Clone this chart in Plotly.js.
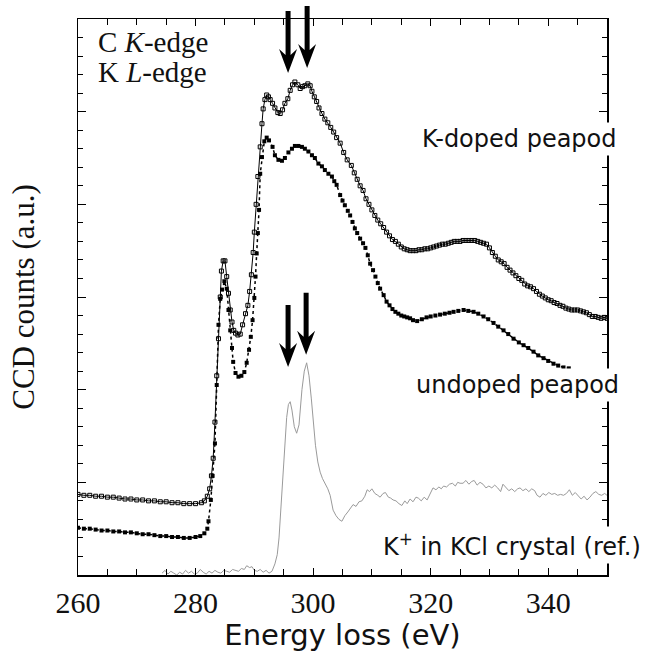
<!DOCTYPE html>
<html>
<head>
<meta charset="utf-8">
<script src="https://cdn.plot.ly/plotly-3.0.1.min.js"></script>
<style>html,body{margin:0;padding:0;background:#fff;}#chart{width:657px;height:663px;}</style>
</head>
<body>
<div id="chart"></div>
<script>
// K-doped peapod (open squares, solid line)
const kDopedE = [260,261,262,263,264,265,266,267,268,269,270,271,272,273,274,275,276,277,278,279,280,281,281.5,282,282.4,282.7,283,283.3,283.6,283.9,284.2,284.4,284.7,285,285.3,285.6,285.9,286.2,286.5,286.8,287.2,287.6,288,288.5,288.9,289.2,289.5,289.8,290,290.3,290.6,291,291.3,291.5,291.8,292.1,292.4,292.7,293.1,293.5,294,294.4,294.8,295.2,295.7,296.1,296.5,296.9,297.4,297.8,298.2,298.6,299.1,299.5,299.8,300.2,300.6,301,301.5,302,302.5,303,303.5,304,304.6,305.2,305.8,306.5,307,307.5,308,308.5,309,309.5,310,310.5,311,311.5,312,312.5,313,313.5,314,314.5,315,315.5,316,316.5,317,317.5,318,318.5,319,319.5,320,320.5,321,321.5,322,322.5,323,323.5,324,324.5,325,325.5,326,326.5,327,327.5,328,328.5,329,329.5,330,330.5,331,331.5,332,332.5,333,333.5,334,334.5,335,335.5,336,336.5,337,337.5,338,338.5,339,339.5,340,340.5,341,341.5,342,342.5,343,343.5,344,344.5,345,345.5,346,346.5,347,347.5,348,348.5,349,349.5,350];
const kDopedI = [0.87,0.86,0.86,0.85,0.85,0.84,0.84,0.83,0.82,0.82,0.81,0.81,0.80,0.80,0.79,0.79,0.78,0.78,0.77,0.77,0.77,0.78,0.80,0.85,0.93,1.07,1.26,1.65,2.15,2.55,3.00,3.28,3.39,3.39,3.22,3.04,2.86,2.73,2.64,2.61,2.59,2.60,2.70,2.82,2.91,3.06,3.24,3.48,3.70,4.00,4.30,4.62,4.87,5.03,5.13,5.18,5.16,5.13,5.09,5.04,4.99,4.98,5.02,5.09,5.14,5.23,5.29,5.32,5.29,5.25,5.27,5.28,5.30,5.28,5.22,5.16,5.11,5.04,4.98,4.92,4.88,4.83,4.78,4.72,4.66,4.56,4.48,4.42,4.34,4.27,4.20,4.15,4.06,4.00,3.94,3.88,3.83,3.79,3.75,3.70,3.66,3.62,3.60,3.57,3.54,3.52,3.51,3.50,3.50,3.50,3.51,3.51,3.52,3.52,3.53,3.54,3.55,3.56,3.57,3.57,3.58,3.59,3.60,3.60,3.60,3.61,3.61,3.61,3.61,3.61,3.60,3.59,3.58,3.57,3.53,3.48,3.44,3.40,3.38,3.36,3.32,3.29,3.26,3.23,3.20,3.18,3.14,3.12,3.11,3.09,3.06,3.03,3.01,2.99,2.97,2.96,2.94,2.93,2.91,2.90,2.88,2.87,2.86,2.86,2.86,2.85,2.84,2.83,2.81,2.79,2.79,2.78,2.77,2.78,2.77];

// undoped peapod (filled squares, dotted line)
const undopedE = [260,261,262,263,264,265,266,267,268,269,270,271,272,273,274,275,276,277,278,279,280,280.8,281.5,282,282.2,282.6,282.9,283.3,283.6,283.9,284.2,284.5,284.9,285.3,285.6,285.9,286.2,286.4,286.8,287.3,287.8,288.3,288.7,289.1,289.4,289.7,290,290.2,290.4,290.6,290.8,291,291.3,291.7,292.1,292.5,293.1,293.5,294.1,294.7,295.2,295.8,296.4,296.9,297.5,298.1,298.6,299.2,299.8,300.3,300.9,301.5,302,302.6,303.2,303.6,304,304.6,305,305.4,305.9,306.3,306.7,307.1,307.5,308,308.5,308.9,309.3,309.7,310.2,310.6,311,311.4,312,312.5,313,313.5,314,314.5,315,315.5,316,316.5,317,317.7,318.5,319.3,320,320.8,321.6,322.4,323.2,323.9,324.7,325.6,326.4,327.3,328.1,329,329.8,330.7,331.5,332.4,333.2,334.1,335,335.8,336.6,337.5,338.3,339.2,340,340.9,341.7,342.6,343.5];
const undopedI = [0.51,0.50,0.50,0.49,0.48,0.48,0.47,0.47,0.46,0.46,0.45,0.44,0.44,0.43,0.42,0.42,0.41,0.41,0.40,0.40,0.41,0.42,0.45,0.50,0.58,0.81,1.07,1.42,2.05,2.70,2.98,3.08,3.17,3.09,2.86,2.64,2.45,2.30,2.18,2.14,2.15,2.19,2.29,2.43,2.57,2.75,2.99,3.22,3.47,3.69,3.94,4.33,4.51,4.68,4.72,4.69,4.62,4.53,4.48,4.47,4.50,4.56,4.60,4.63,4.63,4.62,4.60,4.57,4.53,4.50,4.44,4.41,4.37,4.33,4.30,4.25,4.21,4.10,4.04,3.99,3.93,3.88,3.81,3.74,3.69,3.63,3.58,3.53,3.45,3.36,3.29,3.22,3.15,3.09,3.02,2.95,2.91,2.87,2.84,2.82,2.80,2.79,2.78,2.77,2.75,2.74,2.76,2.78,2.79,2.80,2.81,2.82,2.83,2.84,2.85,2.86,2.85,2.84,2.82,2.79,2.76,2.72,2.68,2.64,2.60,2.55,2.51,2.48,2.45,2.41,2.37,2.34,2.31,2.28,2.26,2.24,2.23];

// K+ in KCl crystal (reference, thin grey line)
const kclE = [274.3,274.8,275.3,275.8,276.3,276.8,277.3,277.8,278.3,278.8,279.3,279.8,280.3,280.8,281.3,281.8,282.3,282.8,283.3,283.8,284.3,284.8,285.3,285.8,286.3,286.8,287.3,287.8,288.3,288.7,289.2,289.6,290,290.5,291,291.5,292,292.5,293,293.5,293.9,294.2,294.5,294.9,295.2,295.5,295.8,296.1,296.4,296.8,297.2,297.6,298.1,298.5,298.9,299.3,299.7,300,300.4,300.8,301.2,301.6,302,302.5,302.9,303.4,303.9,304.4,304.9,305.4,305.9,306.3,306.8,307.3,307.8,308.3,308.8,309.2,309.6,310,310.5,311,311.4,311.9,312.3,312.8,313.2,313.6,314.1,314.6,315.1,315.6,316,316.5,317,317.5,317.9,318.4,318.9,319.4,319.9,320.4,320.9,321.4,321.8,322.2,322.7,323.2,323.7,324.2,324.6,325,325.5,326,326.5,327,327.4,327.9,328.4,328.9,329.4,329.9,330.4,330.9,331.4,331.9,332.3,332.8,333.3,333.8,334.3,334.8,335.2,335.7,336.2,336.7,337.2,337.7,338.1,338.6,339.1,339.6,340.1,340.6,341.1,341.6,342.1,342.6,343.1,343.6,344.1,344.6,345.1,345.6,346.1,346.6,347.1,347.6,348.1,348.6,349.1,349.6,350];
const kclI = [0.02,0.05,0.01,0.04,0.02,0.00,0.03,0.01,0.05,0.02,0.04,0.01,0.02,0.06,0.03,0.01,0.04,0.02,0.05,0.03,0.02,0.05,0.04,0.03,0.06,0.05,0.04,0.07,0.06,0.10,0.08,0.09,0.05,0.04,0.06,0.03,0.05,0.02,0.04,0.12,0.22,0.40,0.70,1.10,1.46,1.70,1.84,1.87,1.78,1.60,1.53,1.62,2.00,2.20,2.29,2.15,1.90,1.65,1.40,1.22,1.11,1.04,0.99,0.93,0.86,0.70,0.64,0.60,0.58,0.64,0.68,0.72,0.76,0.74,0.79,0.80,0.85,0.92,0.90,0.93,0.88,0.86,0.84,0.88,0.89,0.84,0.83,0.81,0.80,0.77,0.75,0.80,0.77,0.82,0.79,0.84,0.83,0.80,0.84,0.81,0.87,0.94,0.92,0.95,0.93,0.96,0.95,0.98,0.99,0.96,1.00,0.99,0.99,1.02,0.98,1.01,1.02,0.97,1.00,0.98,0.94,0.96,0.94,0.97,0.94,0.90,0.98,0.95,0.91,0.93,0.90,0.93,0.94,0.91,0.93,0.90,0.93,0.91,0.86,0.84,0.88,0.86,0.89,0.87,0.88,0.86,0.87,0.86,0.88,0.92,0.86,0.89,0.85,0.82,0.85,0.81,0.84,0.88,0.90,0.87,0.86,0.88,0.86];

// Arrow tips: [energy (eV), paper y]
const arrowE = [295.74, 298.98, 295.74, 298.81];
const arrowTipY = [0.903, 0.912, 0.374, 0.396];

const traces = [
  {x: kclE, y: kclI, mode: 'lines', line: {color: '#9a9a9a', width: 1}, hoverinfo: 'skip'},
  {x: undopedE, y: undopedI, mode: 'lines+markers',
   line: {color: 'black', width: 1.5, dash: 'dot'},
   marker: {symbol: 'square', size: 4, color: 'black'}},
  {x: kDopedE, y: kDopedI, mode: 'lines+markers',
   line: {color: 'black', width: 1},
   marker: {symbol: 'square-open', size: 4, color: 'black', line: {width: 1, color: 'black'}}}
];

const arrowPath = 'M0,0 L-9,24 L-2.5,18 L-2.5,62 L2.5,62 L2.5,18 L9,24 Z';
const shapes = arrowE.map((e, i) => ({
  type: 'path', xref: 'x', yref: 'paper',
  xsizemode: 'pixel', ysizemode: 'pixel',
  xanchor: e, yanchor: arrowTipY[i],
  path: arrowPath, fillcolor: 'black', line: {width: 0}
}));

const SERIF = '"Liberation Serif", "Times New Roman", serif';
const SANS = '"DejaVu Sans", sans-serif';
const sansFont = {family: SANS, size: 24, color: '#111'};
const serifNote = {family: SERIF, size: 29, color: '#111'};
const annotations = [
  {xref: 'paper', yref: 'paper', x: 0.034, y: 0.959, xanchor: 'left', yanchor: 'middle',
   showarrow: false, text: 'C <i>K</i>-edge', font: serifNote},
  {xref: 'paper', yref: 'paper', x: 0.034, y: 0.905, xanchor: 'left', yanchor: 'middle',
   showarrow: false, text: 'K <i>L</i>-edge', font: serifNote},
  {xref: 'paper', yref: 'paper', x: 1.025, y: 0.784, xanchor: 'right', yanchor: 'middle',
   showarrow: false, text: 'K-doped peapod', font: sansFont, bgcolor: 'white', borderpad: 2},
  {xref: 'paper', yref: 'paper', x: 1.028, y: 0.342, xanchor: 'right', yanchor: 'middle',
   showarrow: false, text: 'undoped peapod', font: sansFont, bgcolor: 'white', borderpad: 2},
  {xref: 'paper', yref: 'paper', x: 1.07, y: 0.054, xanchor: 'right', yanchor: 'middle',
   showarrow: false, text: 'K<sup>+</sup> in KCl crystal (ref.)', font: sansFont, bgcolor: 'white', borderpad: 2}
];

const layout = {
  width: 657, height: 663,
  margin: {l: 78, r: 50, t: 19, b: 88},
  paper_bgcolor: 'white', plot_bgcolor: 'white',
  font: {family: SERIF, color: '#111'},
  showlegend: false,
  xaxis: {
    range: [260, 350], dtick: 20, tick0: 260,
    ticks: 'inside', ticklen: 7, tickwidth: 1, tickcolor: 'black',
    minor: {dtick: 5, ticks: 'inside', ticklen: 6, tickcolor: 'black'},
    showline: true, linecolor: 'black', linewidth: 1.5, mirror: 'ticks',
    showgrid: false, zeroline: false,
    tickfont: {family: SERIF, size: 30, color: '#111'},
    title: {text: 'Energy loss (eV)', font: {family: SANS, size: 29, color: '#111'}, standoff: 4}
  },
  yaxis: {
    range: [0, 6], dtick: 1, tick0: 0,
    ticks: 'inside', ticklen: 8, tickwidth: 1, tickcolor: 'black',
    minor: {dtick: 0.2, ticks: 'inside', ticklen: 5, tickcolor: 'black'},
    showticklabels: false,
    showline: true, linecolor: 'black', linewidth: 1.5, mirror: 'ticks',
    showgrid: false, zeroline: false,
    title: {text: 'CCD counts (a.u.)', font: {family: SERIF, size: 31, color: '#111'}, standoff: 32}
  },
  shapes: shapes,
  annotations: annotations
};

Plotly.newPlot('chart', traces, layout, {displayModeBar: false, staticPlot: true});
</script>
</body>
</html>
